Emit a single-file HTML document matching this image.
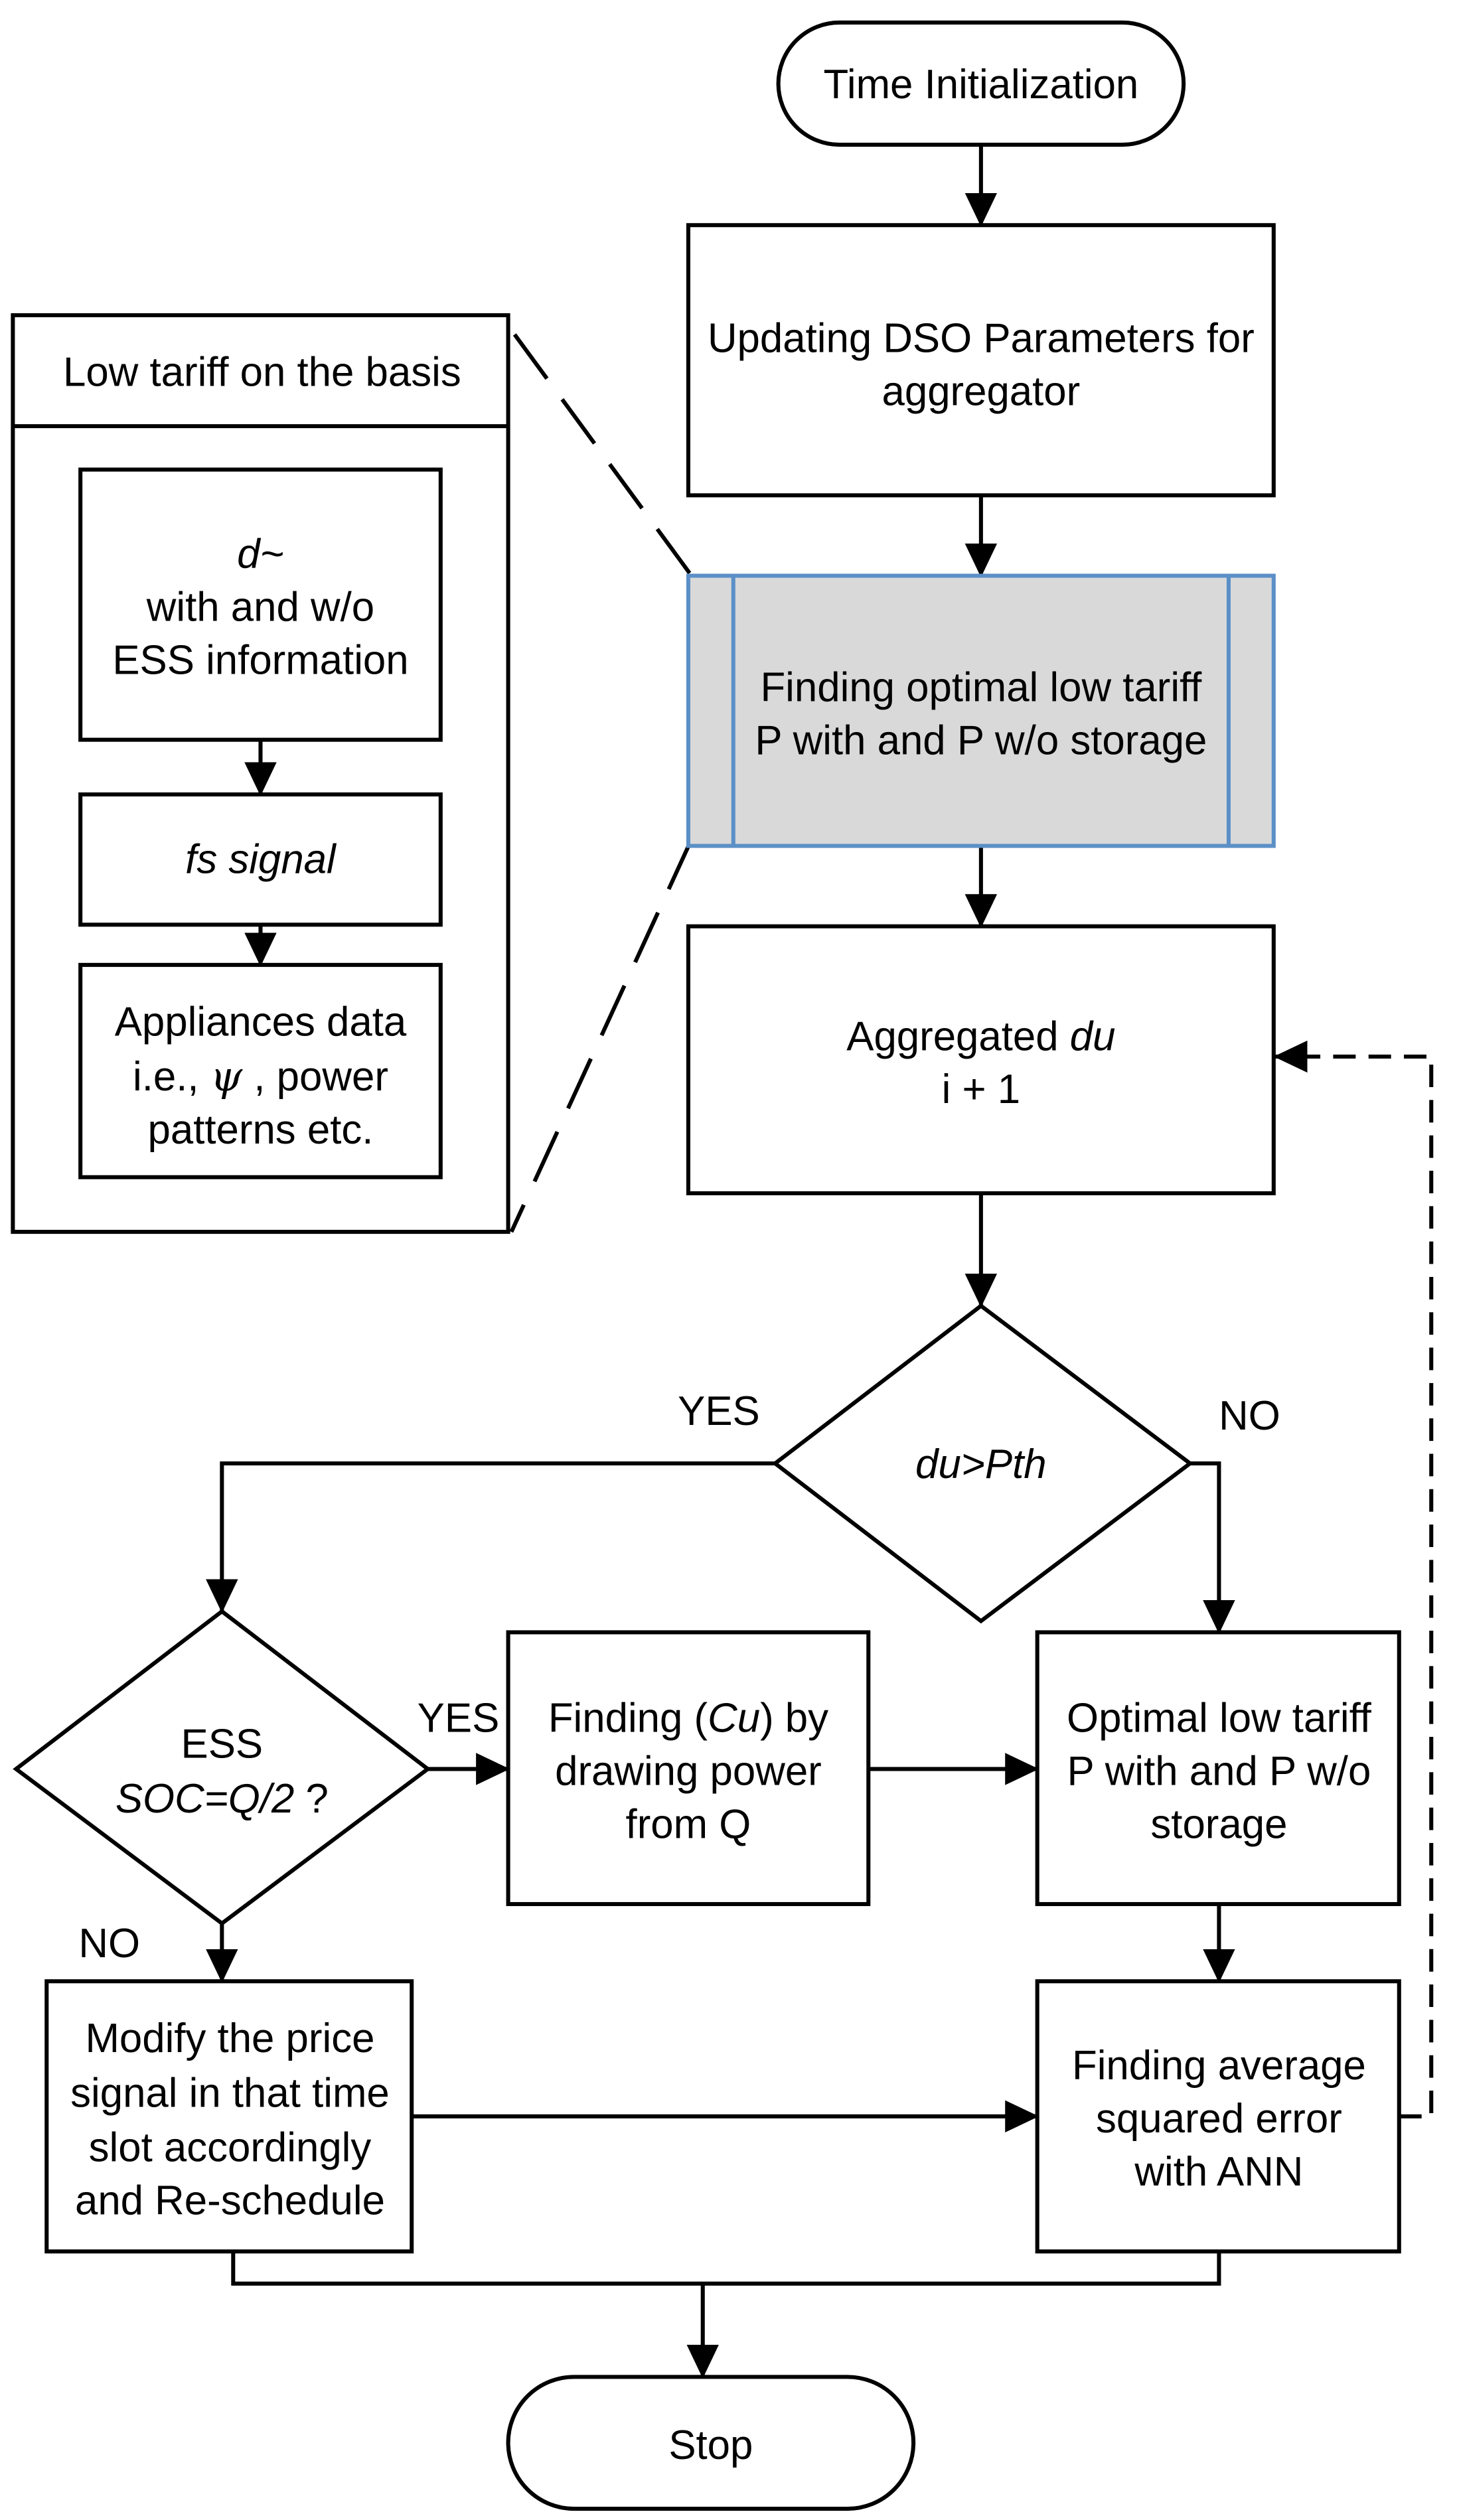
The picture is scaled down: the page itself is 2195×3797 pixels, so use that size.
<!DOCTYPE html>
<html><head><meta charset="utf-8"><style>
html,body{margin:0;padding:0;background:#fff;}
svg{display:block;}
text{font-family:"Liberation Sans",sans-serif;font-size:25.5px;fill:#000;}
</style></head><body>
<svg width="2195" height="3797" viewBox="0 0 906 1567" preserveAspectRatio="none" xmlns="http://www.w3.org/2000/svg">
<defs>
<marker id="b" markerWidth="22" markerHeight="22" refX="20" refY="11" orient="auto" markerUnits="userSpaceOnUse">
<path d="M0,1 L21,11 L0,21 z" fill="#000"/></marker>
</defs>
<g fill="none" stroke="#000" stroke-width="2.5">
<rect x="484" y="14" width="252" height="76" rx="38"/>
<rect x="428" y="140" width="364" height="168"/>
<rect x="428" y="576" width="364" height="166"/>
<path d="M610,812 L740,910 L610,1008 L482,910 Z"/>
<path d="M138,1002 L266,1100 L138,1196 L10,1100 Z"/>
<rect x="645" y="1015" width="225" height="169"/>
<rect x="316" y="1015" width="224" height="169"/>
<rect x="29" y="1232" width="227" height="168"/>
<rect x="645" y="1232" width="225" height="168"/>
<rect x="316" y="1478" width="252" height="82" rx="41"/>
<rect x="8" y="196" width="308" height="570"/>
<line x1="8" y1="265" x2="316" y2="265"/>
<rect x="50" y="292" width="224" height="168"/>
<rect x="50" y="494" width="224" height="81"/>
<rect x="50" y="600" width="224" height="132"/>
<g marker-end="url(#b)">
<line x1="610" y1="90" x2="610" y2="140"/>
<line x1="610" y1="308" x2="610" y2="358"/>
<line x1="610" y1="526" x2="610" y2="576"/>
<line x1="610" y1="742" x2="610" y2="812"/>
<polyline points="482,910 138,910 138,1002"/>
<polyline points="740,910 758,910 758,1015"/>
<line x1="266" y1="1100" x2="316" y2="1100"/>
<line x1="540" y1="1100" x2="645" y2="1100"/>
<line x1="138" y1="1196" x2="138" y2="1232"/>
<line x1="256" y1="1316" x2="645" y2="1316"/>
<line x1="758" y1="1184" x2="758" y2="1232"/>
<line x1="437" y1="1420" x2="437" y2="1478"/>
<line x1="162" y1="460" x2="162" y2="494"/>
<line x1="162" y1="575" x2="162" y2="600"/>
<polyline points="870,1316 890,1316 890,657 793,657" stroke-dasharray="14,8"/>
</g>
<polyline points="145,1400 145,1420 758,1420 758,1400"/>
<line x1="320" y1="208" x2="430" y2="358" stroke-dasharray="34,16"/>
<line x1="430" y1="522" x2="318" y2="766" stroke-dasharray="34,16"/>
</g>
<rect x="428" y="358" width="364" height="168" fill="#d9d9d9" stroke="#5b8fc7" stroke-width="2.5"/>
<line x1="456" y1="358" x2="456" y2="526" stroke="#5b8fc7" stroke-width="2.5"/>
<line x1="764" y1="358" x2="764" y2="526" stroke="#5b8fc7" stroke-width="2.5"/>
<g text-anchor="middle">
<text x="610" y="61">Time Initialization</text>
<text x="610" y="219">Updating DSO Parameters for</text>
<text x="610" y="252">aggregator</text>
<text x="610" y="436">Finding optimal low tariff</text>
<text x="610" y="469">P with and P w/o storage</text>
<text x="610" y="653">Aggregated <tspan font-style="italic">du</tspan></text>
<text x="610" y="686">i + 1</text>
<text x="610" y="919" font-style="italic">du&gt;Pth</text>
<text x="447" y="886">YES</text>
<text x="777" y="889">NO</text>
<text x="138" y="1093">ESS</text>
<text x="138" y="1127" font-style="italic">SOC=Q/2 <tspan font-style="normal">?</tspan></text>
<text x="285" y="1077">YES</text>
<text x="428" y="1077">Finding (<tspan font-style="italic">Cu</tspan>) by</text>
<text x="428" y="1110">drawing power</text>
<text x="428" y="1143">from Q</text>
<text x="758" y="1077">Optimal low tariff</text>
<text x="758" y="1110">P with and P w/o</text>
<text x="758" y="1143">storage</text>
<text x="68" y="1217">NO</text>
<text x="143" y="1276">Modify the price</text>
<text x="143" y="1310">signal in that time</text>
<text x="143" y="1344">slot accordingly</text>
<text x="143" y="1377">and Re-schedule</text>
<text x="758" y="1293">Finding average</text>
<text x="758" y="1326">squared error</text>
<text x="758" y="1359">with ANN</text>
<text x="442" y="1529">Stop</text>
<text x="163" y="240">Low tariff on the basis</text>
<text x="162" y="353" font-style="italic">d~</text>
<text x="162" y="386">with and w/o</text>
<text x="162" y="419">ESS information</text>
<text x="162" y="543" font-style="italic">fs signal</text>
<text x="162" y="644">Appliances data</text>
<text x="162" y="678">i.e., <tspan font-style="italic" font-family="DejaVu Serif">ψ</tspan> , power</text>
<text x="162" y="711">patterns etc.</text>
</g>
</svg>
</body></html>
